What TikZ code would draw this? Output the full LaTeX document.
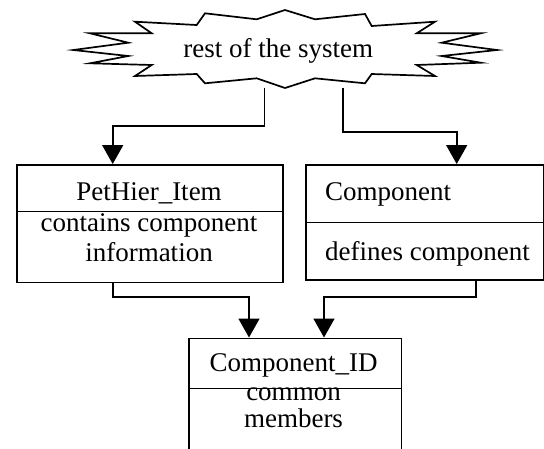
\documentclass[tikz,border=0pt]{standalone}
\usepackage{fontspec}
\setmainfont{Liberation Serif}
\usetikzlibrary{arrows.meta}
\tikzset{
  lw/.style={line width=1.7pt},
  compart/.style={draw, lw, rectangle, anchor=north west, inner sep=0pt},
  txt/.style={inner sep=0pt, anchor=base, font=\fontsize{27}{31}\selectfont},
  txtl/.style={txt, anchor=base west},
  arr/.style={lw, -{Triangle[width=21pt,length=19pt]}},
  starline/.style={lw, line join=miter},
}
\begin{document}
\begin{tikzpicture}[x=1pt,y=-1pt]
\clip (0,0) rectangle (544,448);
\fill[white] (0,0) rectangle (544,448);
% star shape
\draw[starline] (285,10) -- (315,19.3) -- (365,14) -- (371.7,26) -- (435,21.7) -- (416.7,33.3)
  -- (480.7,33.3) -- (441.7,42.7) -- (497,50) -- (441.7,56) -- (480.7,62.7) -- (416.7,65)
  -- (435,76) -- (371.7,74) -- (365,83.3) -- (315,78.3) -- (285,88) -- (256.7,78.3)
  -- (205,83.3) -- (196.7,74) -- (135,76) -- (151.7,65) -- (90,63.3) -- (128.3,56)
  -- (73.3,50) -- (128.3,42.7) -- (90,33.3) -- (151.7,33.3) -- (135,21.7) -- (196.7,25)
  -- (205,13.3) -- (256.7,19.3) -- cycle;
\node[txt] (sys) at (278.2,57.5) {rest of the system};
\coordinate (s1) at (264.4,87.5);
\coordinate (s2) at (342.7,87.5);

% PetHier_Item box
\node[compart, minimum width=266pt, minimum height=46.7pt] (pettop) at (16,164) {};
\node[compart, minimum width=266pt, minimum height=71pt] (petbot) at (16,210.7) {};
\node[txt] (petname) at (149,200) {PetHier\_Item};
\node[txt] (petd1) at (149,231) {contains component};
\node[txt] (petd2) at (149,261.7) {information};

% Component box
\node[compart, minimum width=238pt, minimum height=57.7pt] (comptop) at (305,164) {};
\node[compart, minimum width=238pt, minimum height=57.6pt] (compbot) at (305,221.7) {};
\node[txtl] (compname) at (325,200) {Component};
\node[txtl] (compd) at (325,260) {defines component};

% Component_ID box
\node[compart, minimum width=212.4pt, minimum height=50.2pt] (idtop) at (188.3,337.5) {};
\node[compart, minimum width=212.4pt, minimum height=80pt] (idbot) at (188.3,387.7) {};
\node[txt] (idname) at (293.5,371.7) {Component\_ID};
\node[txt] (idd1) at (293.5,400.7) {common};
\node[txt] (idd2) at (293.5,427.7) {members};

% connector anchor points
\coordinate (t1) at (pettop.north west -| 112.7,0);
\coordinate (t2) at (comptop.north west -| 456.7,0);
\coordinate (b1) at (petbot.south west -| 112.7,0);
\coordinate (b2) at (compbot.south west -| 476.3,0);
\coordinate (t3) at (idtop.north west -| 249,0);
\coordinate (t4) at (idtop.north west -| 324,0);
\coordinate (h1) at (0,125.7);
\coordinate (h2) at (0,132.3);
\coordinate (h3) at (0,297.2);

\draw[arr] (s1) -- (s1 |- h1) -- (t1 |- h1) -- (t1);
\draw[arr] (s2) -- (s2 |- h2) -- (t2 |- h2) -- (t2);
\draw[arr] (b1) -- (b1 |- h3) -- (t3 |- h3) -- (t3);
\draw[arr] (b2) -- (b2 |- h3) -- (t4 |- h3) -- (t4);
\end{tikzpicture}
\end{document}
